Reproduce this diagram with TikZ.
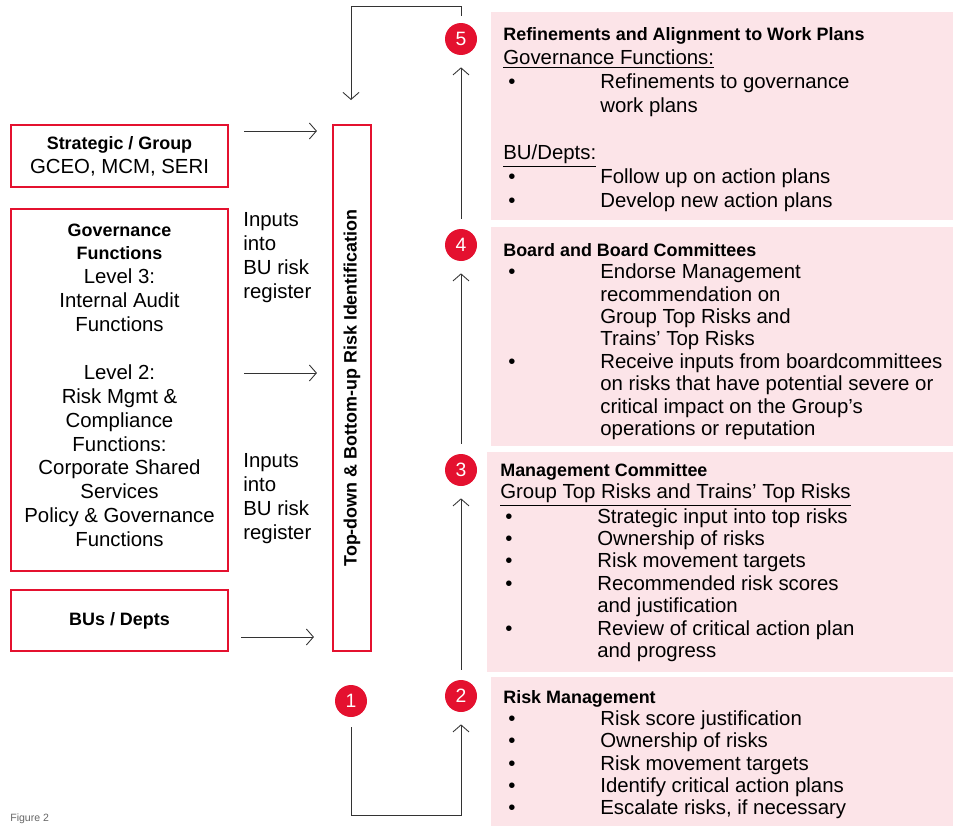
\documentclass[tikz,border=0pt]{standalone}
\usepackage{fontspec}
\setmainfont{Liberation Sans}
\usetikzlibrary{arrows.meta}
\usetikzlibrary{positioning}

\definecolor{riskred}{HTML}{E4112F}
\definecolor{riskpink}{HTML}{FCE4E8}
\newcommand{\bul}{\hspace*{0.1cm}\makebox[1.84cm][l]{\textbullet}}
\newcommand{\ind}{\hspace*{1.94cm}}
\newcommand{\hd}[1]{{\fontsize{10.2}{12}\selectfont\bfseries #1}}

\begin{document}
\begin{tikzpicture}[x=0.02cm, y=-0.02cm,
    redbox/.style={draw=riskred, line width=1.2pt, align=center, inner sep=0pt, font=\fontsize{11.6}{13.6}\selectfont},
    card/.style={fill=riskpink, anchor=north west, inner sep=0pt, minimum width=9.44cm},
    cardtext/.style={align=left, inner sep=0pt},
    num/.style={circle, fill=riskred, text=white, minimum size=0.64cm, inner sep=0pt, font=\fontsize{11}{13}\selectfont},
    flow/.style={-{Straight Barb[length=1.4mm, width=3.2mm]}, black!80, line width=0.5pt},
    gap/.style={shorten <=0.2cm, shorten >=0.24cm}]
    \useasboundingbox (0,0) rectangle (953,825);
    % left side
    \node[redbox, minimum width=4.34cm, minimum height=1.24cm] (strat) at (119.5,156) {\hd{Strategic / Group}\\GCEO, MCM, SERI};
    \node[redbox, minimum width=4.34cm, minimum height=7.24cm] (gov) at (119.5,390) {\hd{Governance}\\\hd{Functions}\\Level 3:\\Internal Audit\\Functions\\[13.6pt]Level 2:\\Risk Mgmt \&\\Compliance\\Functions:\\Corporate Shared\\Services\\Policy \& Governance\\Functions\\[-8pt]\mbox{}};
    \node[redbox, minimum width=4.34cm, minimum height=1.22cm] (bus) at (119.5,620.5) {\hd{BUs / Depts}};
    \node[redbox, rotate=90, minimum width=10.52cm, minimum height=0.76cm] (ident) at (352,388) {\hd{Top-down \& Bottom-up Risk Identification}};
    \node[anchor=north west, align=left, inner sep=0pt, font=\fontsize{11.6}{13.6}\selectfont] (inp1) at (243,212) {Inputs\\into\\BU risk\\register};
    \node[anchor=north west, align=left, inner sep=0pt, font=\fontsize{11.6}{13.6}\selectfont] (inp2) at (243,453) {Inputs\\into\\BU risk\\register};
    \draw[flow, shorten <=0.3cm, shorten >=0.3cm] ([yshift=0.5cm]strat.east) -- ([yshift=0.5cm]strat.east -| ident.north);
    \draw[flow, shorten <=0.3cm, shorten >=0.3cm] ([yshift=0.34cm]gov.east) -- ([yshift=0.34cm]gov.east -| ident.north);
    \draw[flow, shorten <=0.24cm, shorten >=0.36cm] ([yshift=-0.33cm]bus.east) -- ([yshift=-0.33cm]bus.east -| ident.north);
    %
    % right side
    \node[card, minimum height=4.16cm] (card5) at (491,12) {};
    \node[card, minimum height=4.38cm] (card4) at (491,227) {};
    \node[card, minimum height=4.4cm, minimum width=9.52cm] (card3) at (487,452) {};
    \node[card, minimum height=3.06cm] (card2) at (491,677) {};
    \node[cardtext, below right=0.3cm and 0.24cm of card5.north west, font=\fontsize{11.6}{13.6}\selectfont] (text5) {\hd{Refinements and Alignment to Work Plans}\\
        \underline{Governance Functions:}\\
        \bul Refinements to governance\\
        \ind work plans\\[13.6pt]
        \underline{BU/Depts:}\\
        \bul Follow up on action plans\\
        \bul Develop new action plans};
    \node[cardtext, below right=0.32cm and 0.24cm of card4.north west, font=\fontsize{11.6}{12.75}\selectfont] (text4) {\hd{Board and Board Committees}\\
        \bul Endorse Management\\
        \ind recommendation on\\
        \ind Group Top Risks and\\
        \ind Trains’ Top Risks\\
        \bul Receive inputs from boardcommittees\\
        \ind on risks that have potential severe or\\
        \ind critical impact on the Group’s\\
        \ind operations or reputation};
    \node[cardtext, below right=0.22cm and 0.26cm of card3.north west, font=\fontsize{11.6}{12.75}\selectfont] (text3) {\hd{Management Committee}\\
        \underline{Group Top Risks and Trains’ Top Risks}\\
        \bul Strategic input into top risks\\
        \bul Ownership of risks\\
        \bul Risk movement targets\\
        \bul Recommended risk scores\\
        \ind and justification\\
        \bul Review of critical action plan\\
        \ind and progress};
    \node[cardtext, below right=0.26cm and 0.24cm of card2.north west, font=\fontsize{11.6}{12.7}\selectfont] (text2) {\hd{Risk Management}\\
        \bul Risk score justification\\
        \bul Ownership of risks\\
        \bul Risk movement targets\\
        \bul Identify critical action plans\\
        \bul Escalate risks, if necessary};
    %
    \node[num] (c5) at (461,39) {5};
    \node[num] (c4) at (461,245) {4};
    \node[num] (c3) at (461,470) {3};
    \node[num] (c2) at (461,696) {2};
    \node[num] (c1) at (351,701) {1};
    \draw[flow, gap] (c4) -- (c5);
    \draw[flow, gap] (c3) -- (c4);
    \draw[flow, gap] (c2) -- (c3);
    \draw[flow, gap] (c1.south) -- ++(0,98) -| (c2.south);
    \coordinate (back) at (351,100);
    \draw[flow, shorten <=0.14cm] (c5.north) -- ++(0,-16) -| (back);
    %
    \node[anchor=south west, inner sep=0pt, font=\fontsize{6}{7}\selectfont, text=black!60] (fig) at (10,824) {Figure 2};
\end{tikzpicture}
\end{document}
